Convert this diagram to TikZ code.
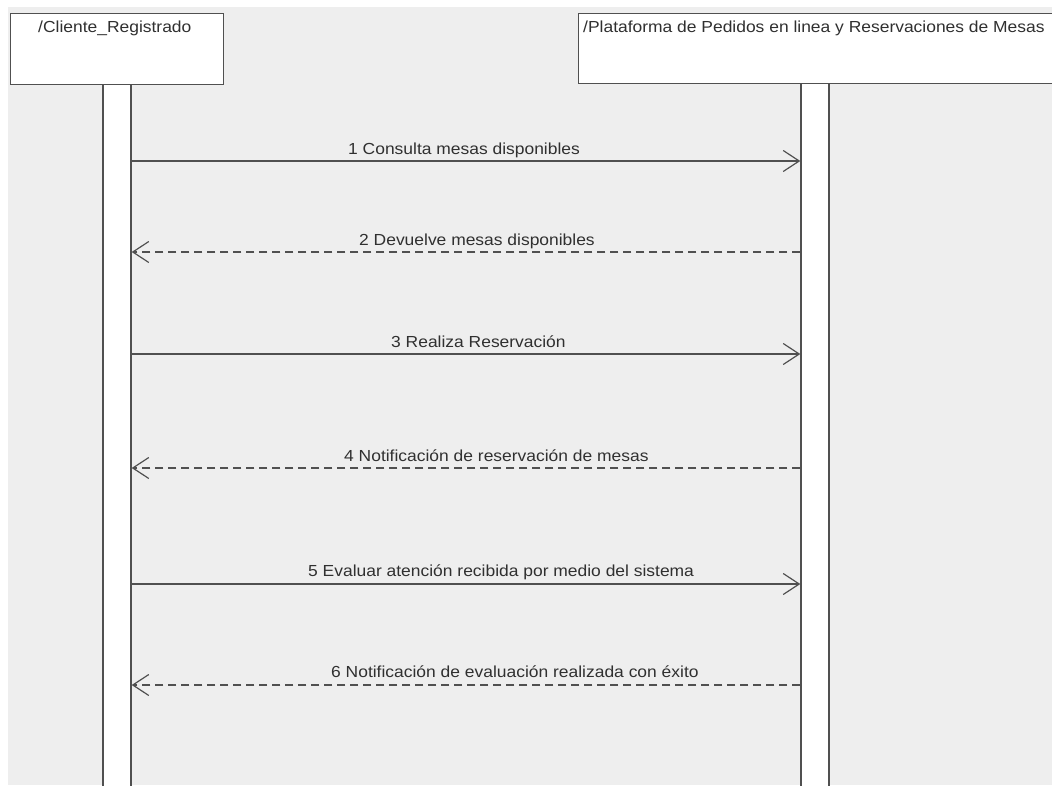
\documentclass[tikz,border=0pt]{standalone}
\usepackage{fontspec}
\setmainfont{Liberation Sans}[FakeStretch=1.09]
\usetikzlibrary{arrows.meta}
\definecolor{canvas}{HTML}{EEEEEE}
\definecolor{edge}{HTML}{505050}
\definecolor{ink}{HTML}{303030}
\tikzset{
  headbox/.style={draw=edge, line width=1.4pt, fill=white, rectangle, inner sep=0pt, anchor=north west},
  lifebox/.style={draw=edge, line width=1.4pt, fill=white, rectangle, inner sep=0pt, anchor=north},
  caption/.style={text=ink, inner sep=0pt, anchor=base west, font=\fontsize{16}{20}\selectfont},
  call/.style={draw=edge, line width=1.3pt, -{Straight Barb[length=16pt,width=21pt,line width=1.2pt]}},
  reply/.style={call, dash pattern=on 8pt off 5pt}
}
\begin{document}
\begin{tikzpicture}[x=1pt,y=-1pt]
\useasboundingbox (0,0) rectangle (1052,785);
\fill[white] (0,0) rectangle (1052,785);
\fill[canvas] (8,7) rectangle (1052,785);

% participants
\node[lifebox, minimum width=28pt, minimum height=710pt] (la) at (117,84) {};
\node[lifebox, minimum width=28pt, minimum height=710pt] (lb) at (815,83) {};
\node[headbox, minimum width=213pt, minimum height=71pt] (ha) at (10,13) {};
\node[headbox, minimum width=490pt, minimum height=70pt] (hb) at (578,13) {};
\node[caption] (ta) at (38,32) {/Cliente\_Registrado};
\node[caption] (tb) at (583,32) {/Plataforma de Pedidos en linea y Reservaciones de Mesas};

% message levels
\coordinate (m1) at (0,161);
\coordinate (m2) at (0,252);
\coordinate (m3) at (0,354);
\coordinate (m4) at (0,468);
\coordinate (m5) at (0,584);
\coordinate (m6) at (0,685);

% messages
\draw[call]  (la.east |- m1) -- (lb.west |- m1);
\draw[reply] (lb.west |- m2) -- (la.east |- m2);
\draw[call]  (la.east |- m3) -- (lb.west |- m3);
\draw[reply] (lb.west |- m4) -- (la.east |- m4);
\draw[call]  (la.east |- m5) -- (lb.west |- m5);
\draw[reply] (lb.west |- m6) -- (la.east |- m6);

% message labels
\node[caption] (l1) at (348,154) {1 Consulta mesas disponibles};
\node[caption] (l2) at (359,245) {2 Devuelve mesas disponibles};
\node[caption] (l3) at (391,347) {3 Realiza Reservación};
\node[caption] (l4) at (344,461) {4 Notificación de reservación de mesas};
\node[caption] (l5) at (308,576) {5 Evaluar atención recibida por medio del sistema};
\node[caption] (l6) at (331,677) {6 Notificación de evaluación realizada con éxito};
\end{tikzpicture}
\end{document}
